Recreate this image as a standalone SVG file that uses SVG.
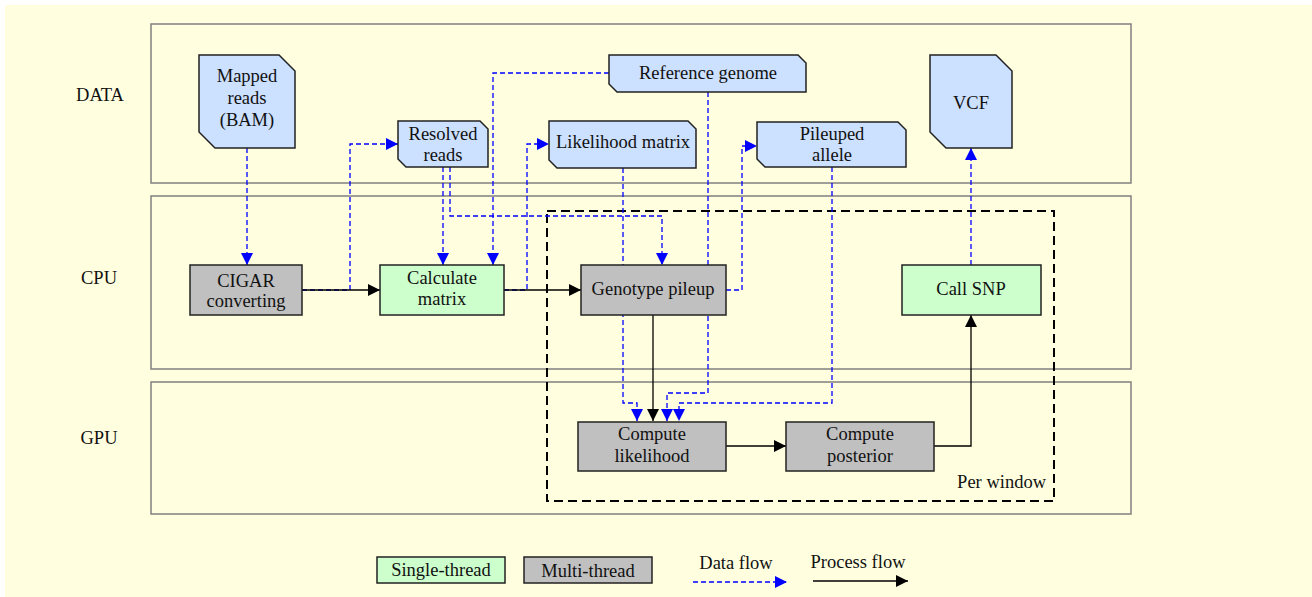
<svg xmlns="http://www.w3.org/2000/svg" width="1312" height="597" viewBox="0 0 1312 597">
<defs>
<marker id="ab" viewBox="0 0 12 12" refX="12" refY="6" markerWidth="12" markerHeight="12" markerUnits="userSpaceOnUse" orient="auto"><path d="M0,0 L12,6 L0,12 z" fill="#0000FF"/></marker>
<marker id="ak" viewBox="0 0 12 12" refX="12" refY="6" markerWidth="12" markerHeight="12" markerUnits="userSpaceOnUse" orient="auto"><path d="M0,0 L12,6 L0,12 z" fill="#000000"/></marker>
<style>
text{font-family:"Liberation Serif","Times New Roman",serif;font-size:18.5px;fill:#111;text-anchor:middle}
.lane{fill:#FFFFE0;stroke:#808080;stroke-width:1.5}
.data{fill:#CCE0FF;stroke:#222;stroke-width:1.5}
.single{fill:#CCFFCC;stroke:#222;stroke-width:1.5}
.multi{fill:#C0C0C0;stroke:#222;stroke-width:1.5}
.df{fill:none;stroke:#0000FF;stroke-width:1.3;stroke-dasharray:5,3;marker-end:url(#ab)}
.pf{fill:none;stroke:#000;stroke-width:1.3;marker-end:url(#ak)}
.win{fill:none;stroke:#000;stroke-width:2;stroke-dasharray:9,5}
</style>
</defs>
<rect x="0" y="0" width="1312" height="597" fill="#FFFFFF"/>
<rect x="5" y="5" width="1307" height="592" fill="#FFFFE0"/>
<g id="lanes">
<rect class="lane" x="151" y="24" width="980" height="159"/>
<rect class="lane" x="151" y="196" width="980" height="173"/>
<rect class="lane" x="151" y="382" width="980" height="132"/>
<text x="100" y="101">DATA</text>
<text x="99" y="284">CPU</text>
<text x="99" y="444">GPU</text>
</g>
<g id="per-window">
<rect class="win" x="547" y="211" width="507" height="290"/>
<text x="1046" y="488" style="text-anchor:end">Per window</text>
</g>
<g id="connectors">
<path class="df" d="M247,148 L247,265"/>
<path class="df" d="M302,290 L350,290 L350,144 L398,144"/>
<path class="df" d="M443,167 L443,265"/>
<path class="df" d="M450,167 L450,216 L662,216 L662,265"/>
<path class="df" d="M609,73 L493,73 L493,265"/>
<path class="df" d="M504,290 L527,290 L527,144 L549,144"/>
<path class="df" d="M726,290 L742,290 L742,146 L757,146"/>
<path class="df" d="M623,168 L623,403 L637,403 L637,421"/>
<path class="df" d="M708,92 L708,393 L667,393 L667,421"/>
<path class="df" d="M832,167 L832,403 L679,403 L679,421"/>
<path class="df" d="M971,265 L971,148"/>
<path class="pf" d="M302,290 L380,290"/>
<path class="pf" d="M504,290 L581,290"/>
<path class="pf" d="M653,315 L653,421"/>
<path class="pf" d="M726,446 L786,446"/>
<path class="pf" d="M934,446 L971,446 L971,315"/>
</g>
<g id="mapped-reads">
<polygon class="data" points="199,55 279,55 295,71 295,148 215,148 199,132"/>
<text x="247" y="82">Mapped</text>
<text x="247" y="104">reads</text>
<text x="247" y="126">(BAM)</text>
</g>
<g id="resolved-reads">
<polygon class="data" points="398,121 480,121 488,129 488,167 406,167 398,159"/>
<text x="443" y="140">Resolved</text>
<text x="443" y="161">reads</text>
</g>
<g id="reference-genome">
<polygon class="data" points="609,55 798,55 806,63 806,92 617,92 609,84"/>
<text x="708" y="79">Reference genome</text>
</g>
<g id="likelihood-matrix">
<polygon class="data" points="549,121 688,121 696,129 696,168 557,168 549,160"/>
<text x="623" y="148">Likelihood matrix</text>
</g>
<g id="pileuped-allele">
<polygon class="data" points="757,122 898,122 906,130 906,167 765,167 757,159"/>
<text x="832" y="140">Pileuped</text>
<text x="832" y="161">allele</text>
</g>
<g id="vcf">
<polygon class="data" points="930,55 996,55 1012,71 1012,148 946,148 930,132"/>
<text x="971" y="109">VCF</text>
</g>
<g id="cigar-converting">
<rect class="multi" x="190" y="265" width="112" height="50"/>
<text x="246" y="287">CIGAR</text>
<text x="246" y="307">converting</text>
</g>
<g id="calculate-matrix">
<rect class="single" x="380" y="265" width="124" height="50"/>
<text x="442" y="284">Calculate</text>
<text x="442" y="305">matrix</text>
</g>
<g id="genotype-pileup">
<rect class="multi" x="581" y="265" width="145" height="50"/>
<text x="653" y="295">Genotype pileup</text>
</g>
<g id="call-snp">
<rect class="single" x="902" y="265" width="139" height="50"/>
<text x="971" y="295">Call SNP</text>
</g>
<g id="compute-likelihood">
<rect class="multi" x="578" y="422" width="148" height="49"/>
<text x="652" y="440">Compute</text>
<text x="652" y="462">likelihood</text>
</g>
<g id="compute-posterior">
<rect class="multi" x="786" y="422" width="148" height="49"/>
<text x="860" y="440">Compute</text>
<text x="860" y="462">posterior</text>
</g>
<g id="legend">
<rect class="single" x="377" y="557" width="128" height="26"/>
<text x="441" y="576">Single-thread</text>
<rect class="multi" x="524" y="557" width="128" height="26"/>
<text x="588" y="577">Multi-thread</text>
<text x="736" y="569">Data flow</text>
<path class="df" d="M693,582 L787,582"/>
<text x="858" y="568">Process flow</text>
<path class="pf" d="M813,581 L908,581"/>
</g>
</svg>
